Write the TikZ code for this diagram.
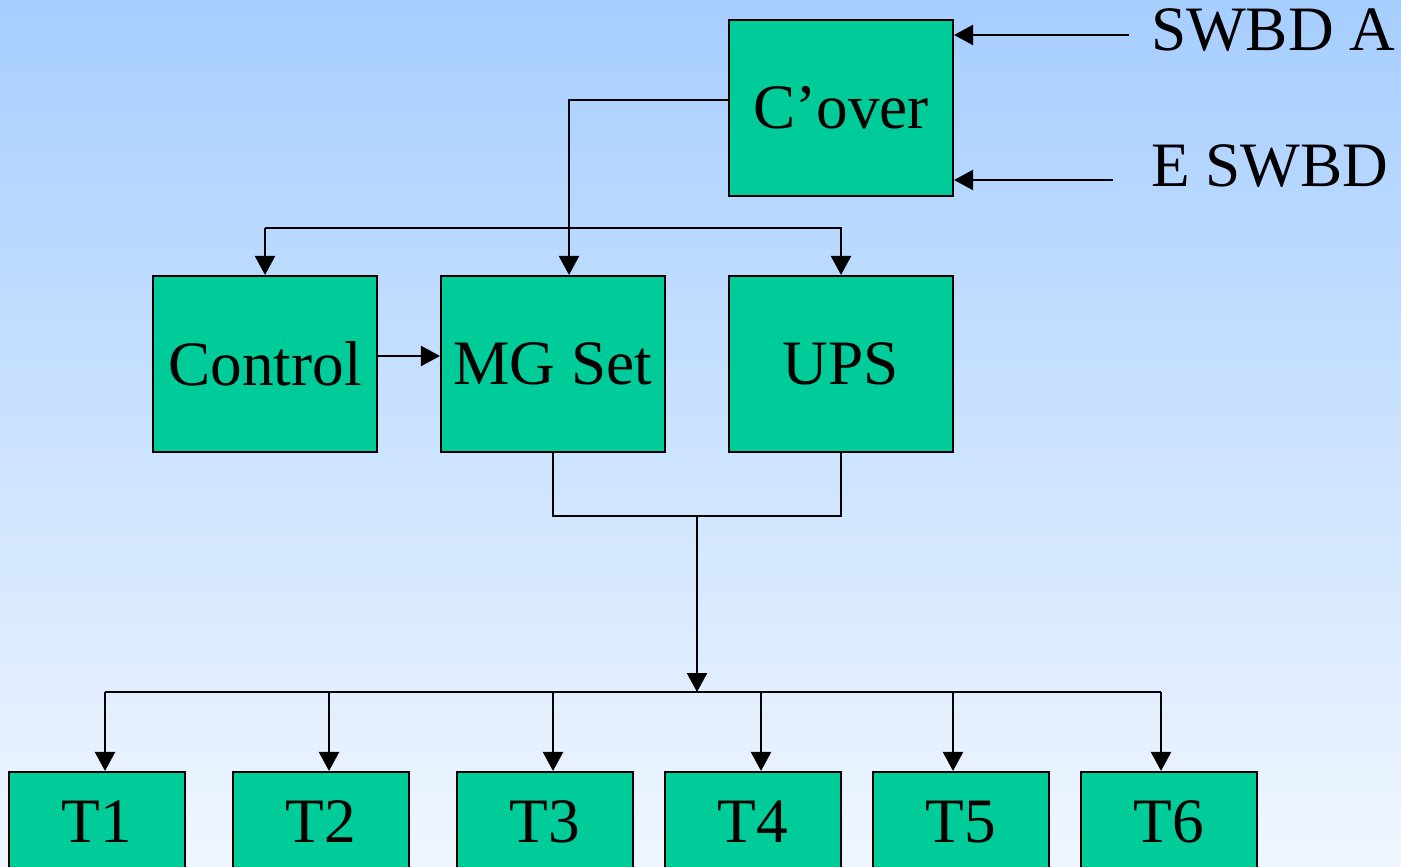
\documentclass[tikz,border=0pt]{standalone}
\usepackage{fontspec}
\setmainfont{Liberation Serif}
\usetikzlibrary{arrows.meta, calc}
\definecolor{bgtop}{HTML}{A6CEFF}
\definecolor{bgbottom}{HTML}{F0F6FF}
\definecolor{boxgreen}{HTML}{00CC99}

\begin{document}
\begin{tikzpicture}[
    >={Triangle[length=5.4pt, width=5.7pt]},
    line width=0.6pt,
    font=\fontsize{18}{22}\selectfont,
    unit/.style={draw=black, fill=boxgreen, minimum width=2.24cm, minimum height=1.76cm, inner sep=0pt},
    tbox/.style={draw=black, fill=boxgreen, minimum width=1.76cm, minimum height=1.0cm, inner sep=0pt},
    feed/.style={anchor=west, inner sep=0pt},
]

% Background gradient
\shade[top color=bgtop, bottom color=bgbottom] (0,0) rectangle (14.01,8.66);
\useasboundingbox (0,0) rectangle (14.01,8.66);

% Changeover and its two feeds
\node[unit] (cover) at (8.41,7.58) {C’over};
\node[feed] (swbdA) at (11.50,8.36) {SWBD A};
\node[feed] (eswbd) at (11.50,7.00) {E SWBD};
\coordinate (swbdAend) at (11.29,8.31);
\coordinate (eswbdend) at (11.13,6.86);
\draw[->] (swbdAend) -- (swbdAend -| cover.east);
\draw[->] (eswbdend) -- (eswbdend -| cover.east);

% Middle row
\node[unit] (control) at (2.65,5.02) {Control};
\node[unit] (mgset) at (5.53,5.02) {MG Set};
\node[unit] (ups) at (8.41,5.02) {UPS};

% Changeover to MG Set
\coordinate (coverout) at ($(cover.west)+(0,0.08)$);
\coordinate (mgin) at ($(mgset.north)+(0.16,0)$);
\draw[->] (coverout) -| (mgin);

% Bus to Control and UPS
\coordinate (topbus) at (2.65,6.38);
\draw[->] (topbus) -- (topbus |- control.north);
\draw[->] (topbus) -- (topbus -| ups.north) -- (ups.north);

% Control to MG Set
\coordinate (ctrlout) at ($(control.east)+(0,0.08)$);
\draw[->] (ctrlout) -- (ctrlout -| mgset.west);

% MG Set and UPS joined to the load bus
\coordinate (merge) at (6.97,3.50);
\coordinate (loadbus) at (6.97,1.74);
\draw (mgset.south) |- (merge) -| (ups.south);
\draw[->] (merge) -- (loadbus);

% Loads
\node[tbox] (t1) at (0.97,0.44) {T1};
\node[tbox] (t2) at (3.21,0.44) {T2};
\node[tbox] (t3) at (5.45,0.44) {T3};
\node[tbox] (t4) at (7.53,0.44) {T4};
\node[tbox] (t5) at (9.61,0.44) {T5};
\node[tbox] (t6) at (11.69,0.44) {T6};

\draw (1.05,1.74) -- (11.61,1.74);
\foreach \x/\t in {1.05/t1, 3.29/t2, 5.53/t3, 7.61/t4, 9.53/t5, 11.61/t6}
    \draw[->] (\x,1.74) -- (\x,1.74 |- \t.north);

\end{tikzpicture}
\end{document}
